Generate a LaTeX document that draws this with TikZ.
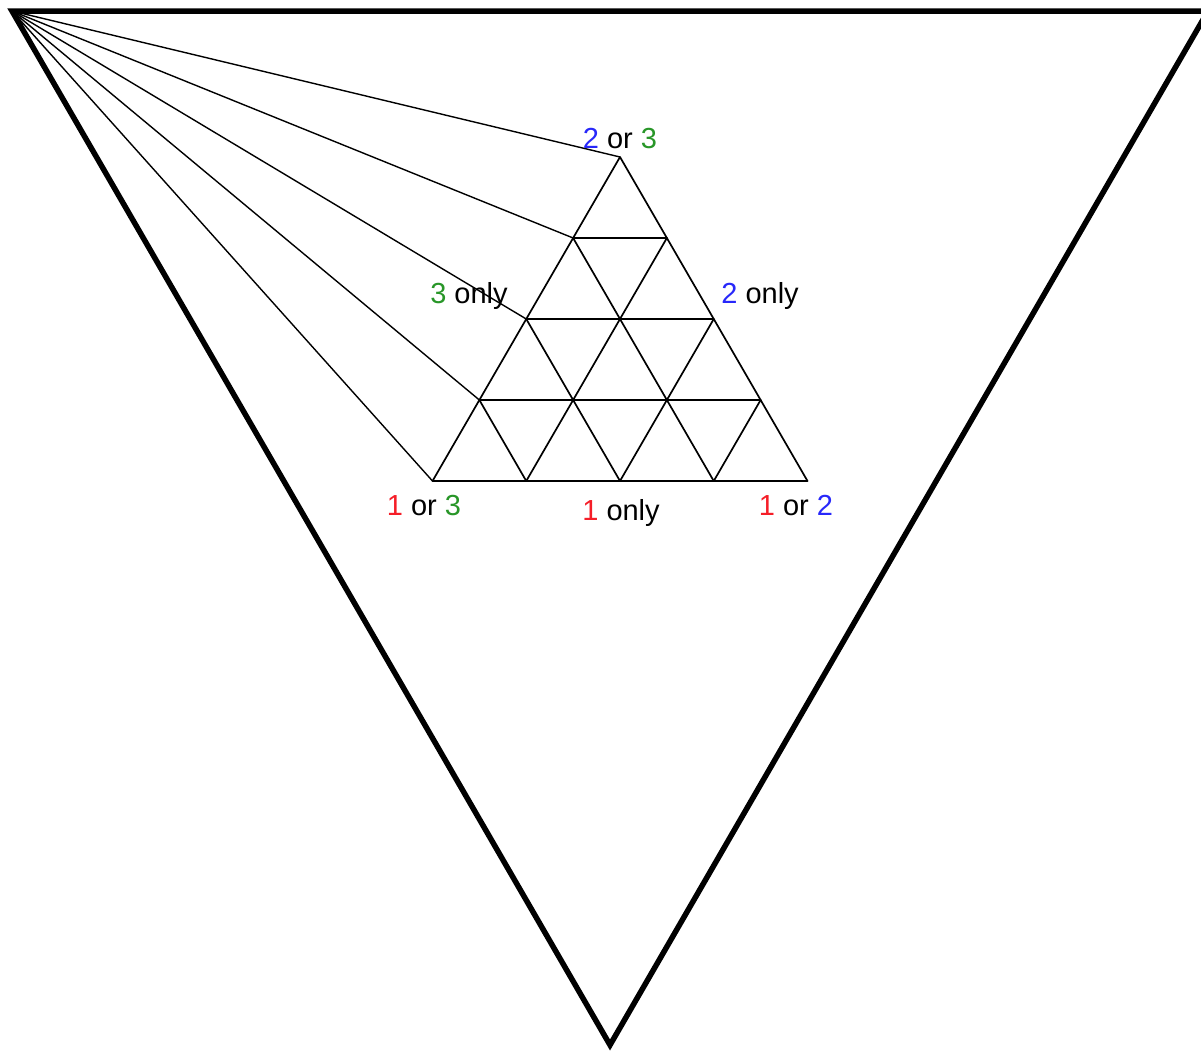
\documentclass[tikz,border=0pt]{standalone}
\usepackage{fontspec}
\setmainfont{Liberation Sans}
\definecolor{cred}{RGB}{245,30,40}
\definecolor{cblue}{RGB}{40,40,250}
\definecolor{cgreen}{RGB}{40,150,40}
\begin{document}
\begin{tikzpicture}[x=1pt,y=-1pt,
  bigline/.style={line width=5.5pt,line join=miter},
  gridline/.style={line width=1.7pt,line cap=round},
  fanline/.style={line width=1.4pt},
  lbl/.style={font=\fontsize{29}{32}\selectfont,anchor=base,inner sep=0pt}]
\useasboundingbox (0,0) rectangle (1201,1050);
% big inverted triangle
\coordinate (A) at (12,11);
\coordinate (B) at (1208,11);
\coordinate (C) at (610,1045);
\draw[bigline] (A) -- (B) -- (C) -- cycle;
% lattice points p-r-k
\foreach \r in {0,...,4}{
  \foreach \k in {0,...,\r}{
    \coordinate (p-\r-\k) at ({620+(\k-\r/2)*93.75},{157+\r*81});
  }
}
% horizontal lines
\foreach \r in {1,...,4}{\draw[gridline] (p-\r-0) -- (p-\r-\r);}
% lines parallel to left edge
\foreach \k in {0,...,3}{\draw[gridline] (p-\k-\k) -- (p-4-\k);}
% lines parallel to right edge
\foreach \c in {0,...,3}{
  \pgfmathtruncatemacro{\e}{4-\c}
  \draw[gridline] (p-\c-0) -- (p-4-\e);}
% fan lines
\foreach \r in {0,...,4}{\draw[fanline] (A) -- (p-\r-0);}
% labels
\node[lbl] (l23) at (620,148) {\textcolor{cblue}{2} or \textcolor{cgreen}{3}};
\node[lbl] (l3) at (469,303) {\textcolor{cgreen}{3} only};
\node[lbl] (l2) at (760,303) {\textcolor{cblue}{2} only};
\node[lbl] (l13) at (424,515) {\textcolor{cred}{1} or \textcolor{cgreen}{3}};
\node[lbl] (l1) at (621,520) {\textcolor{cred}{1} only};
\node[lbl] (l12) at (796,515) {\textcolor{cred}{1} or \textcolor{cblue}{2}};
\end{tikzpicture}
\end{document}
